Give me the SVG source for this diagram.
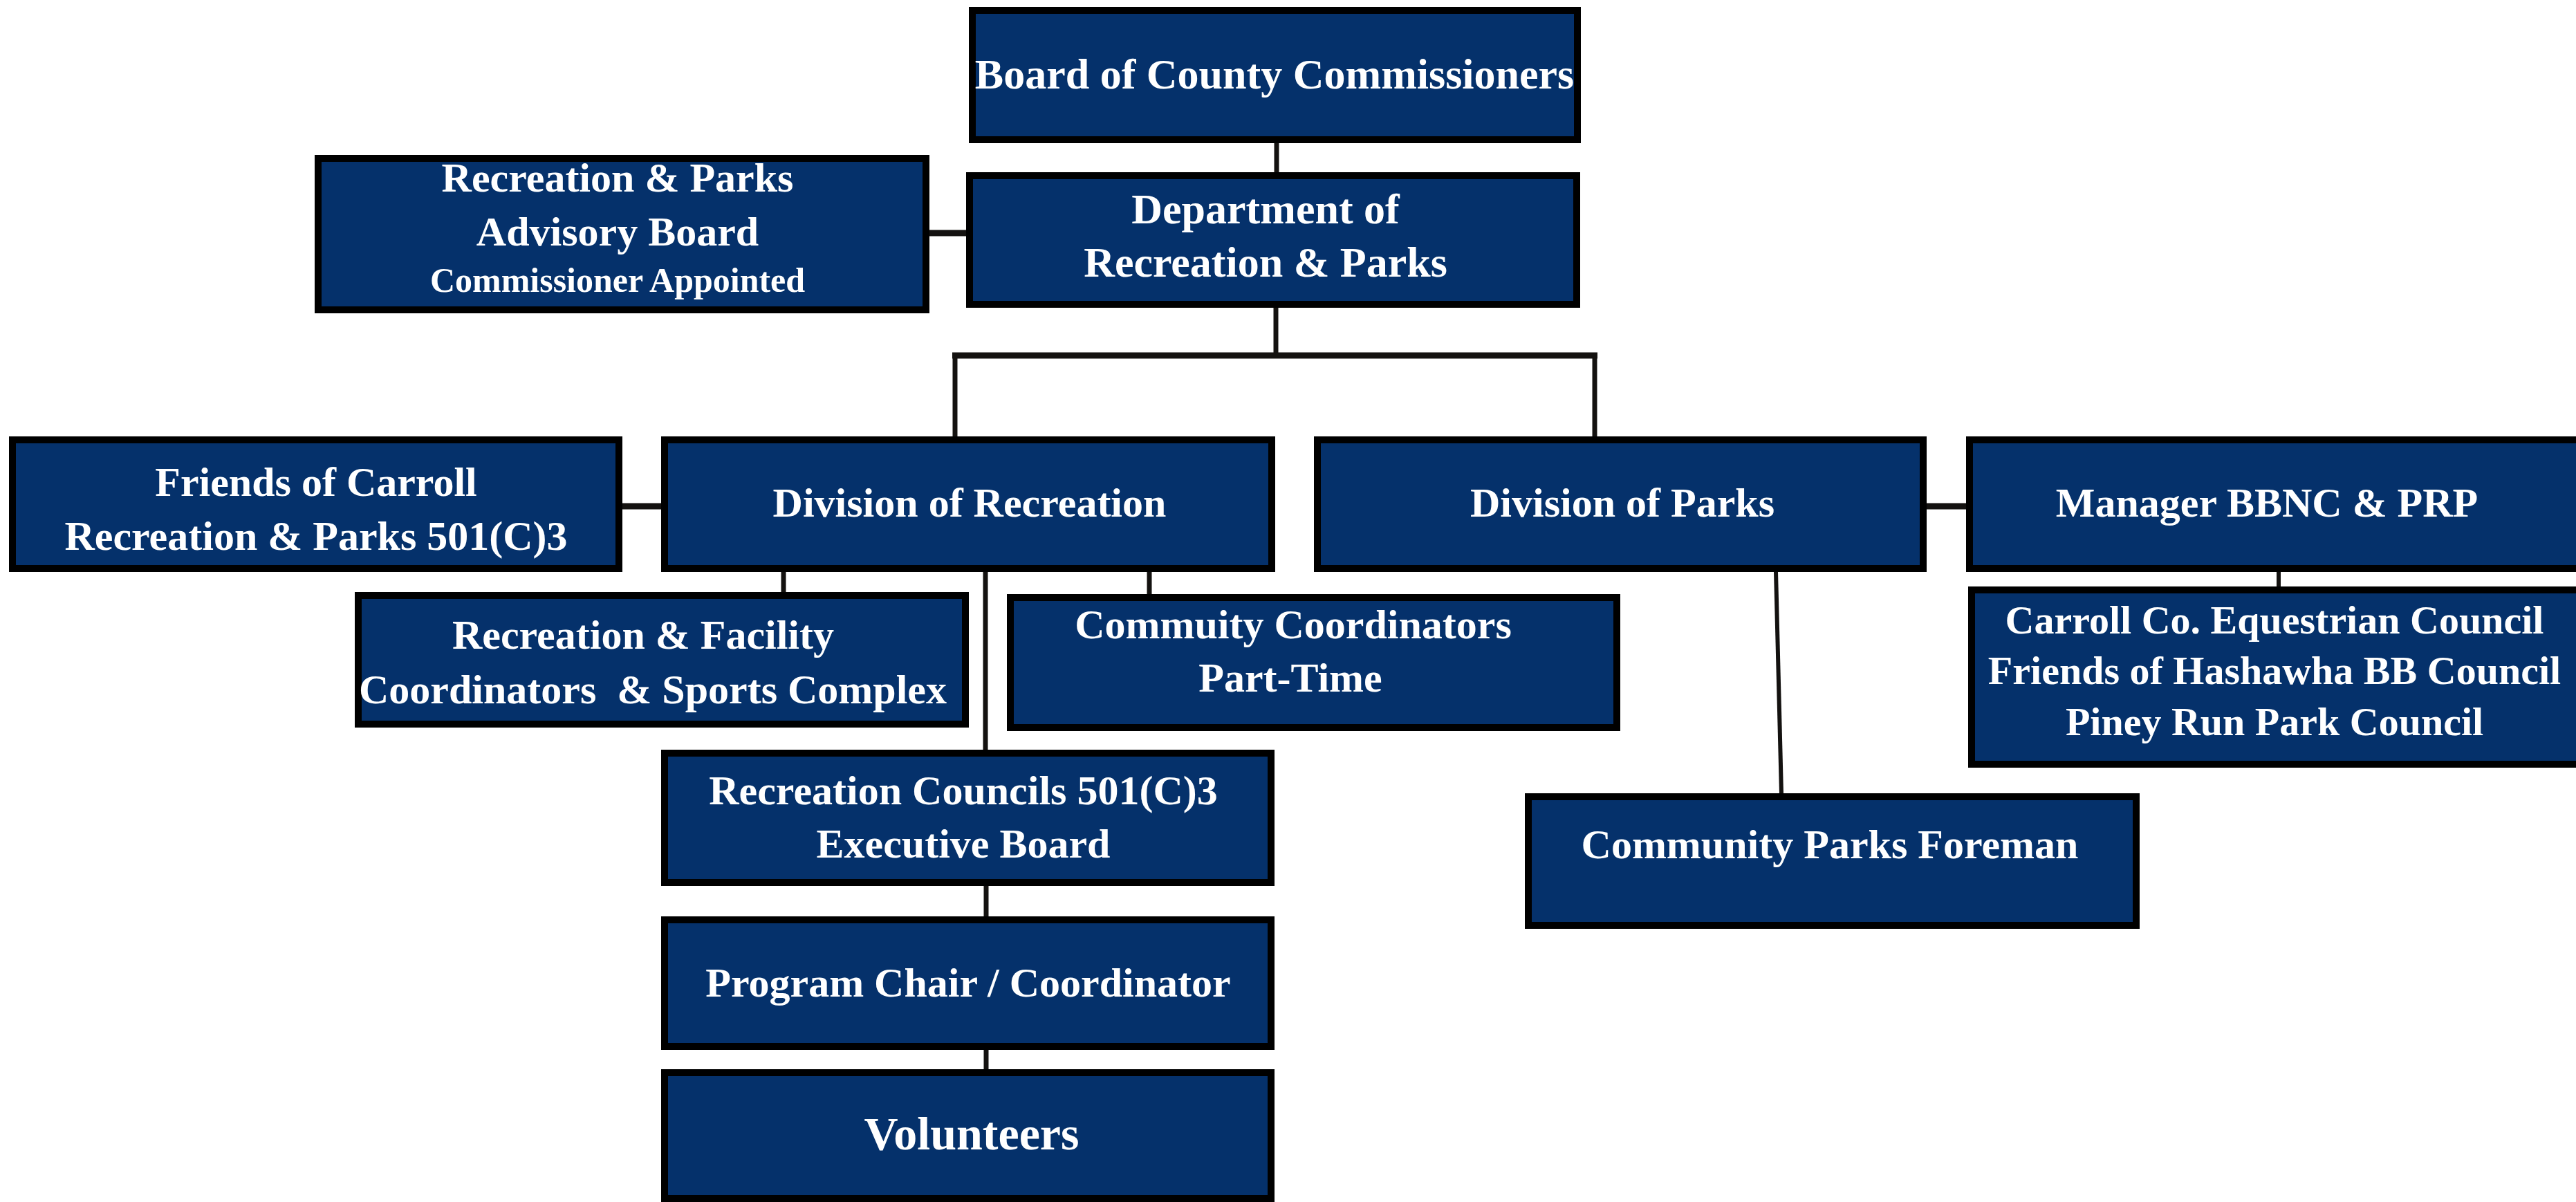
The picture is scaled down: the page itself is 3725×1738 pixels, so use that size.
<svg xmlns="http://www.w3.org/2000/svg" width="3725" height="1738" viewBox="0 0 3725 1738">
<style>
.box{fill:#05316b;stroke:#000;stroke-width:10}
.t{fill:#fff;font-family:"Liberation Serif","Times New Roman",serif;font-weight:bold;font-size:60px;text-anchor:middle;white-space:pre}
.s{font-size:50px}
.l{font-size:62px}
.v{font-size:68px}
.e{font-size:58px}
.c{stroke:#141210;stroke-width:7;fill:none}
.ct{stroke:#141210;stroke-width:9;fill:none}
</style>
<rect width="3725" height="1738" fill="#fff"/>
<g id="connectors">
<line class="c" x1="1846" y1="207" x2="1846" y2="249"/>
<line class="ct" x1="1344" y1="337" x2="1397" y2="337"/>
<line class="c" x1="1845" y1="445" x2="1845" y2="514"/>
<line class="ct" x1="1377" y1="514" x2="2310" y2="514"/>
<line class="c" x1="1381" y1="514" x2="1381" y2="631"/>
<line class="c" x1="2306" y1="514" x2="2306" y2="631"/>
<line class="ct" x1="900" y1="732" x2="956" y2="732"/>
<line class="c" x1="1133" y1="827" x2="1133" y2="856"/>
<line class="c" x1="1425" y1="827" x2="1425" y2="1084"/>
<line class="c" x1="1662" y1="827" x2="1662" y2="859"/>
<line class="ct" x1="2786" y1="732" x2="2843" y2="732"/>
<line class="c" x1="2568" y1="827" x2="2576" y2="1147" style="stroke-width:6"/>
<line class="c" x1="3295" y1="827" x2="3295" y2="848" style="stroke-width:6"/>
<line class="c" x1="1426" y1="1281" x2="1426" y2="1325"/>
<line class="c" x1="1426" y1="1518" x2="1426" y2="1546"/>
</g>
<g id="board">
<rect class="box" x="1406" y="15" width="875" height="187"/>
<text class="t l" x="1843" y="128">Board of County Commissioners</text>
</g>
<g id="dept">
<rect class="box" x="1402" y="254" width="878" height="186"/>
<text class="t l" x="1830" y="323">Department of</text>
<text class="t l" x="1830" y="400">Recreation &amp; Parks</text>
</g>
<g id="advisory">
<rect class="box" x="460" y="229" width="879" height="219"/>
<text class="t" x="893" y="277">Recreation &amp; Parks</text>
<text class="t" x="893" y="355">Advisory Board</text>
<text class="t s" x="893" y="422">Commissioner Appointed</text>
</g>
<g id="friends">
<rect class="box" x="18" y="636" width="877" height="186"/>
<text class="t" x="457" y="717">Friends of Carroll</text>
<text class="t" x="457" y="795">Recreation &amp; Parks 501(C)3</text>
</g>
<g id="divrec">
<rect class="box" x="961" y="636" width="878" height="186"/>
<text class="t" x="1402" y="747">Division of Recreation</text>
</g>
<g id="divparks">
<rect class="box" x="1905" y="636" width="876" height="186"/>
<text class="t" x="2346" y="747">Division of Parks</text>
</g>
<g id="manager">
<rect class="box" x="2848" y="636" width="890" height="186"/>
<text class="t" x="3278" y="747">Manager BBNC &amp; PRP</text>
</g>
<g id="recfac">
<rect class="box" x="518" y="861" width="878" height="186"/>
<text class="t" x="930" y="938">Recreation &amp; Facility</text>
<text class="t" x="944" y="1017">Coordinators  &amp; Sports Complex</text>
</g>
<g id="commu">
<rect class="box" x="1461" y="864" width="877" height="188"/>
<text class="t" x="1870" y="923">Commuity Coordinators</text>
<text class="t" x="1866" y="1000">Part-Time</text>
</g>
<g id="equest">
<rect class="box" x="2851" y="853" width="887" height="252"/>
<text class="t e" x="3289" y="916">Carroll Co. Equestrian Council</text>
<text class="t e" x="3289" y="989">Friends of Hashawha BB Council</text>
<text class="t e" x="3289" y="1063">Piney Run Park Council</text>
</g>
<g id="reccouncils">
<rect class="box" x="961" y="1089" width="877" height="187"/>
<text class="t" x="1393" y="1163">Recreation Councils 501(C)3</text>
<text class="t" x="1393" y="1240">Executive Board</text>
</g>
<g id="program">
<rect class="box" x="961" y="1330" width="877" height="183"/>
<text class="t" x="1400" y="1441">Program Chair / Coordinator</text>
</g>
<g id="volunteers">
<rect class="box" x="961" y="1551" width="877" height="182"/>
<text class="t v" x="1405" y="1662">Volunteers</text>
</g>
<g id="foreman">
<rect class="box" x="2210" y="1152" width="879" height="186"/>
<text class="t" x="2646" y="1241">Community Parks Foreman</text>
</g>
</svg>
